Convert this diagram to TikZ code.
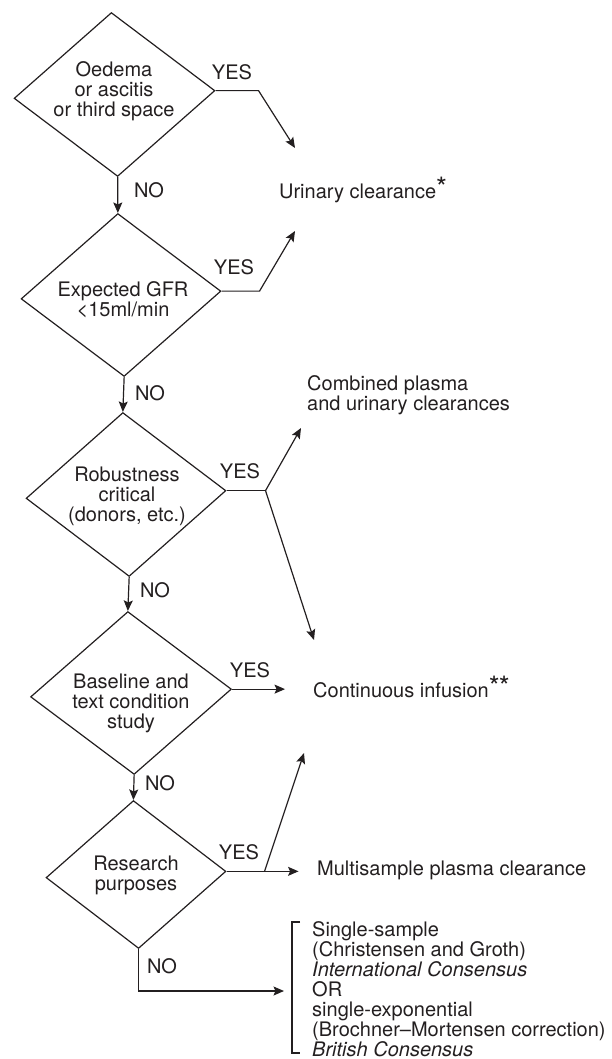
\documentclass[tikz,border=0pt]{standalone}
\usepackage{fontspec}
\setmainfont{TeX Gyre Heros}
\usetikzlibrary{arrows.meta,shapes.geometric}
\definecolor{ink}{RGB}{35,31,32}
\newcommand{\astk}{\raisebox{1pt}{\fontsize{28}{28}\selectfont *}}
\begin{document}
\begin{tikzpicture}[x=1pt,y=-1pt,
  every node/.style={text=ink, font=\fontsize{20}{20}\selectfont},
  dia/.style={draw=ink, line width=1.2pt, diamond, inner sep=0pt, rotate=2.2},
  dtext/.style={align=center, inner sep=0pt},
  lbl/.style={inner sep=0pt},
  conn/.style={draw=ink, line width=1.2pt},
  arr/.style={conn, -{Stealth[length=10.5pt,width=9pt,inset=2pt]}},
  res/.style={anchor=west, inner sep=0pt, align=left}
]
\useasboundingbox (0,0) rectangle (611,1059);

% decision diamonds
\node[dia, minimum width=201pt, minimum height=164pt] (d1) at (114.5,94.5) {};
\node[dia, minimum width=200pt, minimum height=163pt] (d2) at (121,295) {};
\node[dia, minimum width=200pt, minimum height=164pt] (d3) at (126,494.5) {};
\node[dia, minimum width=201pt, minimum height=163pt] (d4) at (131,693) {};
\node[dia, minimum width=180pt, minimum height=148pt, rotate=-0.2] (d5) at (136,874.5) {};

% diamond texts
\node[dtext] (t1) at (114,91) {Oedema\\or ascitis\\or third space};
\node[dtext] (t2) at (123,300) {Expected GFR\\{<}15ml/min};
\node[dtext] (t3) at (127,496) {Robustness\\critical\\(donors, etc.)};
\node[dtext] (t4) at (131,703) {Baseline and\\text condition\\study};
\node[dtext] (t5) at (136,875) {Research\\purposes};

% YES / NO labels
\node[lbl] (y1) at (232,72) {YES};
\node[lbl] (n1) at (149,190) {NO};
\node[lbl] (y2) at (234,267) {YES};
\node[lbl] (n2) at (150,393) {NO};
\node[lbl] (y3) at (240,471) {YES};
\node[lbl] (n3) at (155,590) {NO};
\node[lbl] (y4) at (250,670) {YES};
\node[lbl] (n4) at (160,783) {NO};
\node[lbl] (y5) at (239,852) {YES};
\node[lbl] (n5) at (162,966) {NO};

% results
\node[res] (r1) at (279,190) {Urinary clearance\astk};
\node[res] (r2) at (307,395) {Combined plasma\\and urinary clearances};
\node[res] (r3) at (313,687) {Continuous infusion\astk\kern-1pt\astk};
\node[res] (r4) at (317,870) {Multisample plasma clearance};
\node[res] (r5) at (312,989) {Single-sample\\(Christensen and Groth)\\\textit{International Consensus}\\OR\\single-exponential\\(Brochner\textendash Mortensen correction)\\\textit{British Consensus}};

% bracket
\draw[conn] (300,922) -- (292,922) -- (292,1053) -- (300,1053);

% arrow end points
\coordinate (tip1) at (295,148);
\coordinate (tip2) at (295,231);
\coordinate (tip3a) at (301,428);
\coordinate (tip3b) at (314,640);
\coordinate (tip5a) at (304,753);
\coordinate (tipn5) at (284,991);

% NO connectors
\draw[arr] (d1.south) -- (d2.north);
\draw[arr] (d2.south) -- (d3.north);
\draw[arr] (d3.south) -- (d4.north);
\draw[arr] (d4.south) -- (d5.north);
\draw[arr] (d5.south) -- (d5.south |- tipn5) -- (tipn5);

% YES connectors
\draw[arr] (d1.east) -- ++(43,0) -- (tip1);
\draw[arr] (d2.east) -- ++(38,0) -- (tip2);
\path (d3.east) ++(39,0) coordinate (j3);
\draw[conn] (d3.east) -- (j3);
\draw[arr] (j3) -- (tip3a);
\draw[arr] (j3) -- (tip3b);
\draw[arr] (d4.east) -- ++(53,0);
\path (d5.east) ++(38,0) coordinate (j5);
\draw[arr] (d5.east) -- ++(72,0);
\draw[arr] (j5) -- (tip5a);
\end{tikzpicture}
\end{document}
